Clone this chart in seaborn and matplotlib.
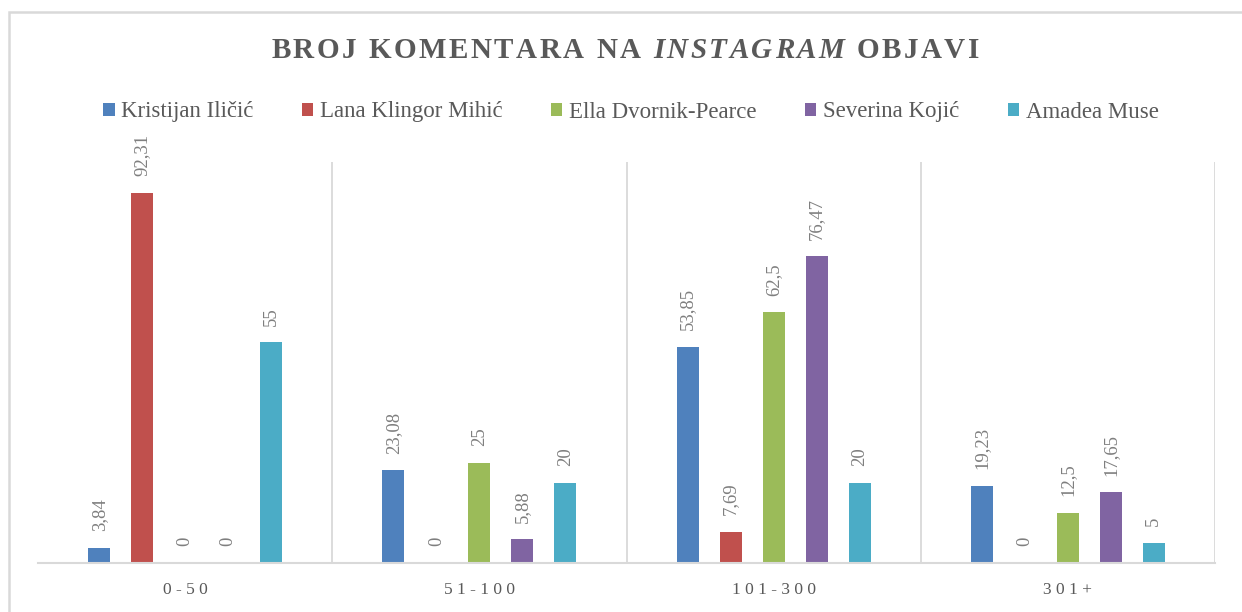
import matplotlib
matplotlib.use("Agg")
import matplotlib.pyplot as plt
import seaborn as sns
import pandas as pd
from matplotlib.patches import Rectangle

# ---- data ----
categories = ["0-50", "51-100", "101-300", "301+"]
persons = ["Kristijan Iličić", "Lana Klingor Mihić", "Ella Dvornik-Pearce",
           "Severina Kojić", "Amadea Muse"]
kristijan = [3.84, 23.08, 53.85, 19.23]
lana = [92.31, 0, 7.69, 0]
ella = [0, 25, 62.5, 12.5]
severina = [0, 5.88, 76.47, 17.65]
amadea = [55, 20, 20, 5]
colors = ["#4F81BD", "#C0504D", "#9BBB59", "#8064A2", "#4BACC6"]
title_parts = [("BROJ KOMENTARA NA ", "normal"), ("INSTAGRAM", "italic"), (" OBJAVI", "normal")]

series = [kristijan, lana, ella, severina, amadea]
rows = []
for p, vals in zip(persons, series):
    for c, v in zip(categories, vals):
        rows.append({"cat": c, "person": p, "val": v})
df = pd.DataFrame(rows)

sns.set_theme(style="white")
plt.rcParams["font.family"] = ["Liberation Serif", "DejaVu Serif"]

W, H = 1242, 612
fig = plt.figure(figsize=(W / 100, H / 100), dpi=100)
ax = fig.add_axes([38 / W, 1 - 563 / H, (1215 - 38) / W, (563 - 162) / H])

sns.barplot(data=df, x="cat", y="val", hue="person", order=categories,
            hue_order=persons, palette=colors, width=0.73, gap=0.49,
            saturation=1, errorbar=None, ax=ax, linewidth=0)

ax.set_ylim(0, 100)
ax.set_xlim(-0.5, 3.5)
ax.set_yticks([])
ax.set_xlabel("")
ax.set_ylabel("")
for s in ["top", "left", "right"]:
    ax.spines[s].set_visible(False)
ax.spines["bottom"].set_color("#d9d9d9")
ax.spines["bottom"].set_linewidth(1.5)
for xv in [0.5, 1.5, 2.5, 3.5]:
    ax.axvline(xv, color="#d9d9d9", lw=1.3, zorder=0)

ax.set_xticks(range(len(categories)))
ax.set_xticklabels([" ".join(c) for c in categories])
ax.tick_params(axis="x", length=0, pad=14, labelsize=12.5, labelcolor="#595959")

for cont in ax.containers:
    ax.bar_label(cont, fmt=lambda v: f"{v:g}".replace(".", ","), rotation=90,
                 padding=12, color="#7f7f7f", fontsize=13.5)

handles, labels = ax.get_legend_handles_labels()
if ax.get_legend() is not None:
    ax.get_legend().remove()
fig.legend(handles, labels, loc="center", bbox_to_anchor=(631 / W, 1 - 112 / H),
           ncol=5, frameon=False, handlelength=0.5, handleheight=0.5,
           handletextpad=0.3, columnspacing=2.1, fontsize=16.5,
           labelcolor="#595959")

# outer chart border (left and top visible)
fig.add_artist(Rectangle((9 / W, -0.2), 1.5, 1 - 12 / H + 0.2,
                         transform=fig.transFigure, fill=False,
                         edgecolor="#d9d9d9", lw=1.8, clip_on=False))

# letter-spaced title
renderer = fig.canvas.get_renderer()
tkw = dict(fontsize=21, fontweight="bold", color="#595959")
spacing = 2.5
items = []
for s, style in title_parts:
    for ch in s:
        if ch == " ":
            t1 = fig.text(0, 0, "a a", fontstyle=style, **tkw)
            t2 = fig.text(0, 0, "aa", fontstyle=style, **tkw)
            w = t1.get_window_extent(renderer).width - t2.get_window_extent(renderer).width
            t1.remove(); t2.remove()
            items.append((None, w))
        else:
            t = fig.text(0, 0, ch, fontstyle=style, ha="left", va="center", **tkw)
            items.append((t, t.get_window_extent(renderer).width))
total = sum(w for _, w in items) + spacing * (len(items) - 1)
x = 625 - total / 2
for t, w in items:
    if t is not None:
        t.set_position((x / W, 1 - 51 / H))
    x += w + spacing

fig.savefig("out.png", dpi=100)
